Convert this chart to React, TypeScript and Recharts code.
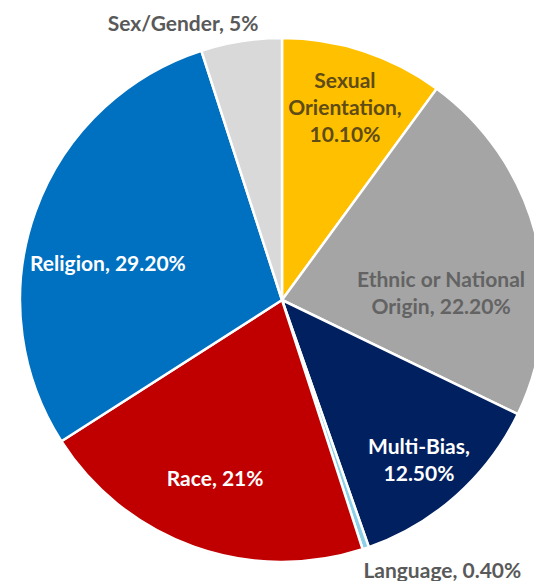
import React from 'react';
import { PieChart, Pie, Cell } from 'recharts';

const categories = [
  'Sexual Orientation',
  'Ethnic or National Origin',
  'Multi-Bias',
  'Language',
  'Race',
  'Religion',
  'Sex/Gender',
];
const shares = [10.1, 22.2, 12.5, 0.4, 21, 29.2, 5];
const labelLines = [
  ['Sexual', 'Orientation,', '10.10%'],
  ['Ethnic or National', 'Origin, 22.20%'],
  ['Multi-Bias,', '12.50%'],
  ['Language, 0.40%'],
  ['Race, 21%'],
  ['Religion, 29.20%'],
  ['Sex/Gender, 5%'],
];

const sliceColors = ['#FFC000', '#A5A5A5', '#002060', '#8ECFE8', '#C00000', '#0070C0', '#D9D9D9'];
const labelColors = ['#5e4b16', '#636363', '#FFFFFF', '#595959', '#FFFFFF', '#FFFFFF', '#595959'];

// where Excel put each label: degrees clockwise from 12 o'clock, fraction of the radius
const labelAngles = [18.0, 86.8, 139.25, 149.2, 200.7, 282.3, 340.4];
const labelRadii = [0.778, 0.608, 0.801, 1.195, 0.722, 0.68, 1.126];

const data = categories.map((name, i) => ({ name, value: shares[i] }));

const FONT = 'Lato, "DejaVu Sans", sans-serif';
const LINE_HEIGHT = 27;

const renderLabel = (props: any) => {
  const { cx, cy, outerRadius, index } = props;
  const theta = (labelAngles[index] * Math.PI) / 180;
  const r = outerRadius * labelRadii[index];
  const x = cx + r * Math.sin(theta);
  const y = cy - r * Math.cos(theta);
  const lines = labelLines[index];
  const top = y - ((lines.length - 1) * LINE_HEIGHT) / 2;
  return (
    <text
      x={x}
      y={top}
      textAnchor="middle"
      dominantBaseline="central"
      fill={labelColors[index]}
      fontFamily={FONT}
      fontWeight={700}
      fontSize={21}
    >
      {lines.map((line, i) => (
        <tspan key={i} x={x} y={top + i * LINE_HEIGHT}>
          {line}
        </tspan>
      ))}
    </text>
  );
};

export default function App() {
  return (
    <div style={{ position: 'absolute', left: 0, top: 0, width: 534, height: 581, background: '#fff' }}>
      <PieChart width={534} height={581} margin={{ top: 0, right: 0, bottom: 0, left: 0 }}>
        <Pie
          data={data}
          dataKey="value"
          nameKey="name"
          cx={282}
          cy={300}
          outerRadius={262}
          startAngle={90}
          endAngle={-270}
          stroke="#FFFFFF"
          strokeWidth={2.5}
          label={renderLabel}
          labelLine={false}
          isAnimationActive={false}
        >
          {data.map((d, i) => (
            <Cell key={d.name} fill={sliceColors[i]} />
          ))}
        </Pie>
      </PieChart>
    </div>
  );
}
